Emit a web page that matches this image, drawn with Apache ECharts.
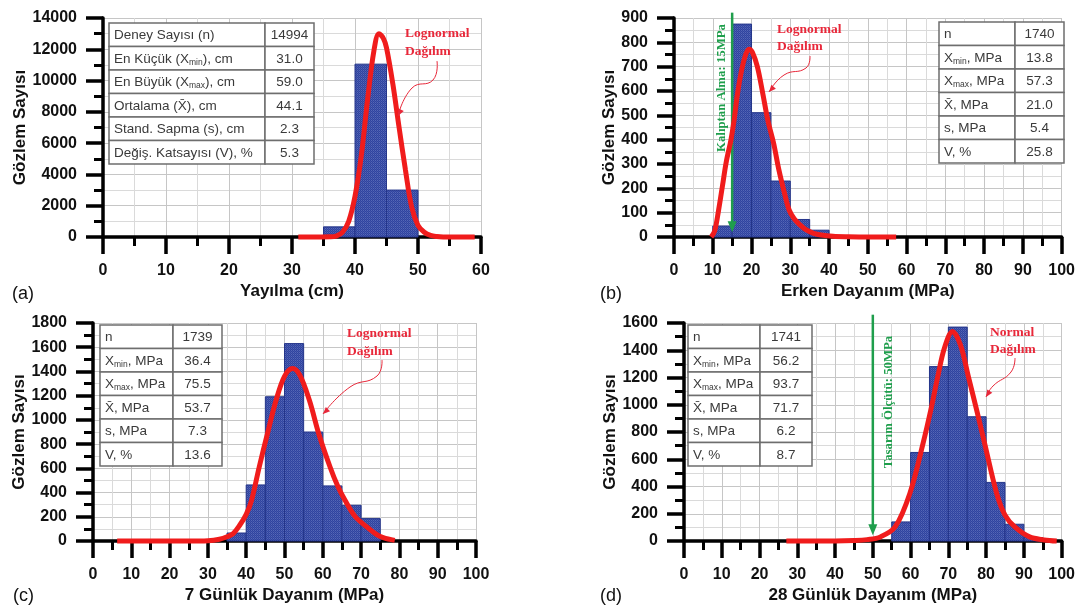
<!DOCTYPE html>
<html><head><meta charset="utf-8">
<script src="https://cdn.jsdelivr.net/npm/echarts@6/dist/echarts.min.js"></script>
<style>html,body{margin:0;padding:0;background:#fff}#c{width:1078px;height:605px}</style>
</head><body><div id="c"></div>
<script>
// ---------- Panel (a): Yayılma ----------
const aBinEdges = [35, 40, 45, 50];
const aCounts = [650, 11050, 3000];
const aCurveX = [31, 34, 36, 37, 38, 39, 40, 41, 42, 43, 43.8, 44.5, 45, 46, 47, 48, 49, 50, 51, 52, 53, 54, 56, 59];
const aCurveY = [0, 0, 10, 60, 300, 1000, 2600, 5200, 8800, 11900, 13000, 12700, 12100, 9800, 7000, 4300, 1900, 750, 300, 100, 30, 5, 0, 0];
const aTableLabels = ['Deney Sayısı (n)', 'En Küçük (X{sub|min}), cm', 'En Büyük (X{sub|max}), cm', 'Ortalama (X̄), cm', 'Stand. Sapma (s), cm', 'Değiş. Katsayısı (V), %'];
const aTableValues = ['14994', '31.0', '59.0', '44.1', '2.3', '5.3'];

// ---------- Panel (b): Erken Dayanım ----------
const bBinEdges = [10, 15, 20, 25, 30, 35, 40];
const bCounts = [45, 875, 511, 230, 72, 28];
const bCurveX = [9.6, 10.5, 11.5, 12.5, 13.5, 14.7, 15.5, 16.4, 17.5, 18.5, 19.3, 20.2, 21.5, 22.9, 24.2, 25.7, 27, 28.5, 29.7, 31, 32.5, 34, 36, 38, 41, 45, 50, 57.3];
const bCurveY = [0, 25, 110, 210, 310, 400, 480, 590, 690, 750, 772, 760, 700, 590, 480, 385, 280, 180, 111, 75, 50, 30, 15, 8, 3, 1, 0, 0];
const bMarker = [15, 922, 20];   // x, top, arrow tip

// ---------- Panel (c): 7 Günlük Dayanım ----------
const cBinEdges = [35, 40, 45, 50, 55, 60, 65, 70, 75];
const cCounts = [66, 463, 1191, 1630, 900, 455, 295, 185];
const cCurveX = [6.3, 15, 25, 30, 33, 35, 36.6, 38.3, 40, 41.4, 43.4, 45.5, 47.8, 50, 52.1, 54, 56.5, 59, 61.9, 63.8, 65.8, 68.5, 71.5, 74, 75.8, 78.8];
const cCurveY = [0, 0, 0, 3, 15, 35, 61, 130, 220, 336, 611, 880, 1162, 1360, 1424, 1370, 1162, 880, 611, 460, 336, 200, 116, 55, 28, 5];

// ---------- Panel (d): 28 Günlük Dayanım ----------
const dBinEdges = [55, 60, 65, 70, 75, 80, 85, 90, 95];
const dCounts = [140, 650, 1280, 1570, 912, 430, 123, 25];
const dCurveX = [27.1, 35, 40, 45, 48.5, 52, 55.9, 59.8, 63.3, 65.5, 67.2, 69, 71.1, 73.2, 75.3, 77.5, 79.6, 82.8, 85, 87.6, 91.5, 95.4, 98.7];
const dCurveY = [0, 0, 0, 3, 10, 30, 103, 349, 717, 980, 1207, 1420, 1538, 1440, 1207, 960, 717, 349, 190, 103, 30, 8, 0];
const dMarker = [50, 1661, 42];

const bTableLabels = ['n', 'X{sub|min}, MPa', 'X{sub|max}, MPa', 'X̄, MPa', 's, MPa', 'V, %'];
const bTableValues = ['1740', '13.8', '57.3', '21.0', '5.4', '25.8'];
const cTableValues = ['1739', '36.4', '75.5', '53.7', '7.3', '13.6'];
const dTableValues = ['1741', '56.2', '93.7', '71.7', '6.2', '8.7'];

const yTitle = 'Gözlem Sayısı';
const xTitles = ['Yayılma (cm)', 'Erken Dayanım (MPa)', '7 Günlük Dayanım (MPa)', '28 Günlük Dayanım (MPa)'];
const panelTags = ['(a)', '(b)', '(c)', '(d)'];
const fitNames = [['Lognormal', 'Dağılım'], ['Lognormal', 'Dağılım'], ['Lognormal', 'Dağılım'], ['Normal', 'Dağılım']];
const markerTexts = ['Kalıptan Alma: 15MPa', 'Tasarım Ölçütü: 50MPa'];

// ---------- build ----------
const SANS = '"Liberation Sans", Arial, sans-serif';
const SERIF = '"Liberation Serif", "Times New Roman", serif';
const RED = '#f01c1c', GREEN = '#1f9e4c';

// dotted texture for the histogram bars
const pc = document.createElement('canvas');
pc.width = 2; pc.height = 2;
const pctx = pc.getContext('2d');
pctx.fillStyle = '#2f439f'; pctx.fillRect(0, 0, 2, 2);
pctx.fillStyle = '#5567b6'; pctx.fillRect(1, 0, 1, 1);
pctx.fillStyle = '#4255ab'; pctx.fillRect(0, 1, 1, 1);
const BAR = {image: pc, repeat: 'repeat'};

const grids = [
  {left: 103, top: 18, width: 378, height: 219},
  {left: 674, top: 18, width: 393, height: 219},
  {left: 93, top: 323, width: 383, height: 218},
  {left: 684, top: 323, width: 383, height: 218}
];
const xMax = [60, 100, 100, 100];
const yMax = [14000, 900, 1800, 1600];
const yInt = [2000, 100, 200, 200];
const yNameGap = [70, 54, 61, 64];

function pairs(xs, ys) { return xs.map((x, i) => [x, ys[i]]); }
function bins(edges, counts) { return counts.map((c, i) => [edges[i], edges[i + 1], c]); }

const axisCommon = {
  type: 'value',
  axisLine: {show: true, onZero: false, lineStyle: {color: '#000', width: 3.5}},
  axisTick: {show: true, length: 17, lineStyle: {color: '#000', width: 3.5}},
  minorTick: {show: true, splitNumber: 2, length: 9, lineStyle: {color: '#000', width: 3}},
  splitLine: {show: true, lineStyle: {color: '#c6c6c6', width: 1}},
  minorSplitLine: {show: true, lineStyle: {color: '#dadada', width: 1}},
  axisLabel: {fontSize: 16, fontWeight: 'bold', color: '#111', fontFamily: SANS, margin: 26, formatter: v => String(v)},
  nameLocation: 'middle',
  nameTextStyle: {fontSize: 17, fontWeight: 'bold', color: '#111', fontFamily: SANS}
};

const xAxes = grids.map((g, i) => Object.assign({}, axisCommon, {
  gridIndex: i, min: 0, max: xMax[i], interval: 10, name: xTitles[i], nameGap: 46
}));
const yAxes = grids.map((g, i) => Object.assign({}, axisCommon, {
  gridIndex: i, min: 0, max: yMax[i], interval: yInt[i], name: yTitle, nameGap: yNameGap[i], nameRotate: 90
}));

function histRender(params, api) {
  const p0 = api.coord([api.value(0), api.value(2)]);
  const p1 = api.coord([api.value(1), 0]);
  return {type: 'rect', shape: {x: p0[0], y: p0[1], width: p1[0] - p0[0], height: p1[1] - p0[1]},
    style: {fill: BAR, stroke: '#24358a', lineWidth: 1}};
}
function markerRender(params, api) {
  const top = api.coord([api.value(0), api.value(1)]);
  const tip = api.coord([api.value(0), api.value(2)]);
  return {type: 'group', children: [
    {type: 'line', shape: {x1: top[0], y1: top[1], x2: tip[0], y2: tip[1] - 8}, style: {stroke: GREEN, lineWidth: 2.5}},
    {type: 'polygon', shape: {points: [[tip[0], tip[1]], [tip[0] - 4.5, tip[1] - 11], [tip[0] + 4.5, tip[1] - 11]]}, style: {fill: GREEN}}
  ]};
}

const histData = [bins(aBinEdges, aCounts), bins(bBinEdges, bCounts), bins(cBinEdges, cCounts), bins(dBinEdges, dCounts)];
const curveData = [pairs(aCurveX, aCurveY), pairs(bCurveX, bCurveY), pairs(cCurveX, cCurveY), pairs(dCurveX, dCurveY)];

const series = [];
histData.forEach((d, i) => {
  series.push({type: 'custom', xAxisIndex: i, yAxisIndex: i, renderItem: histRender, data: d,
    encode: {x: [0, 1], y: 2}, z: 3, silent: true});
});
curveData.forEach((d, i) => {
  series.push({type: 'line', xAxisIndex: i, yAxisIndex: i, data: d, smooth: 0.35, showSymbol: false,
    lineStyle: {color: RED, width: 5}, z: 6, silent: true, clip: false});
});
[[1, bMarker], [3, dMarker]].forEach(([i, m]) => {
  series.push({type: 'custom', xAxisIndex: i, yAxisIndex: i, renderItem: markerRender, data: [m],
    encode: {x: 0, y: [1, 2]}, z: 5, silent: true, clip: false});
});

// ---------- graphics ----------
const graphic = [];
const richStyle = {sub: {fontSize: 8.5, fontFamily: SANS, fill: '#3a3a3a', verticalAlign: 'bottom', padding: [6, 0, 0, 0]}};
function table(x0, xs, x1, y0, rowH, labels, values) {
  labels.forEach((lab, i) => {
    const y = y0 + i * rowH;
    graphic.push({type: 'rect', z: 20, shape: {x: x0, y: y, width: xs - x0, height: rowH}, style: {fill: '#fff', stroke: '#6e6e6e', lineWidth: 1.5}});
    graphic.push({type: 'rect', z: 20, shape: {x: xs, y: y, width: x1 - xs, height: rowH}, style: {fill: '#fff', stroke: '#6e6e6e', lineWidth: 1.5}});
    graphic.push({type: 'text', z: 21, x: x0 + 5, y: y + rowH / 2 + 1, style: {text: lab, rich: richStyle,
      font: '13.5px ' + SANS, fill: '#3a3a3a', textAlign: 'left', textVerticalAlign: 'middle', align: 'left', verticalAlign: 'middle'}});
    graphic.push({type: 'text', z: 21, x: (xs + x1) / 2, y: y + rowH / 2 + 1, style: {text: values[i],
      font: '13.5px ' + SANS, fill: '#3a3a3a', textAlign: 'center', textVerticalAlign: 'middle', align: 'center', verticalAlign: 'middle'}});
  });
}
table(109, 265, 314, 23, 23.5, aTableLabels, aTableValues);
table(939, 1015, 1064, 22, 23.5, bTableLabels, bTableValues);
table(100, 173, 222, 325, 23.5, bTableLabels, cTableValues);
table(688, 760, 812, 325, 23.5, bTableLabels, dTableValues);

// panel tags
[[12, 294], [600, 294], [13, 596], [600, 596]].forEach((p, i) => {
  graphic.push({type: 'text', z: 21, x: p[0], y: p[1], style: {text: panelTags[i], font: '18px ' + SANS, fill: '#111',
    textAlign: 'left', textVerticalAlign: 'middle', align: 'left', verticalAlign: 'middle'}});
});

// fit annotations
const fitPos = [[405, 34, 52], [777, 30, 47], [347, 334, 352], [990, 333, 350]];
fitPos.forEach((p, i) => {
  fitNames[i].forEach((t, k) => {
    graphic.push({type: 'text', z: 21, x: p[0], y: k === 0 ? p[1] : p[2], style: {text: t, font: 'bold 13.5px ' + SERIF, fill: '#e8283a',
      textAlign: 'left', textVerticalAlign: 'middle', align: 'left', verticalAlign: 'middle'}});
  });
});
const leaders = [
  [[437, 61], [433, 80], [412, 88], [398, 116]],
  [[810, 56], [806, 68], [784, 75], [769, 92]],
  [[382, 360], [377, 376], [350, 387], [323, 414]],
  [[1015, 358], [1011, 372], [993, 386], [986, 397]]
];
leaders.forEach(pts => {
  graphic.push({type: 'polyline', z: 21, shape: {points: pts, smooth: 0.5}, style: {stroke: '#e8283a', lineWidth: 1, fill: null}});
  const a = pts[pts.length - 1], b = pts[pts.length - 2];
  const ang = Math.atan2(a[1] - b[1], a[0] - b[0]);
  const L = 7, W = 3;
  const bx = a[0] - L * Math.cos(ang), by = a[1] - L * Math.sin(ang);
  graphic.push({type: 'polygon', z: 21, shape: {points: [a, [bx + W * Math.sin(ang), by - W * Math.cos(ang)], [bx - W * Math.sin(ang), by + W * Math.cos(ang)]]},
    style: {fill: '#e8283a'}});
});

// marker texts (vertical)
[[722, 88], [889, 402]].forEach((p, i) => {
  graphic.push({type: 'text', z: 21, x: p[0], y: p[1], rotation: Math.PI / 2, style: {text: markerTexts[i], font: 'bold 12.8px ' + SERIF, fill: GREEN,
    textAlign: 'center', textVerticalAlign: 'middle', align: 'center', verticalAlign: 'middle'}});
});

const chart = echarts.init(document.getElementById('c'), null, {renderer: 'canvas'});
chart.setOption({
  animation: false,
  backgroundColor: '#fff',
  grid: grids,
  xAxis: xAxes,
  yAxis: yAxes,
  series: series,
  graphic: graphic
});
</script></body></html>
